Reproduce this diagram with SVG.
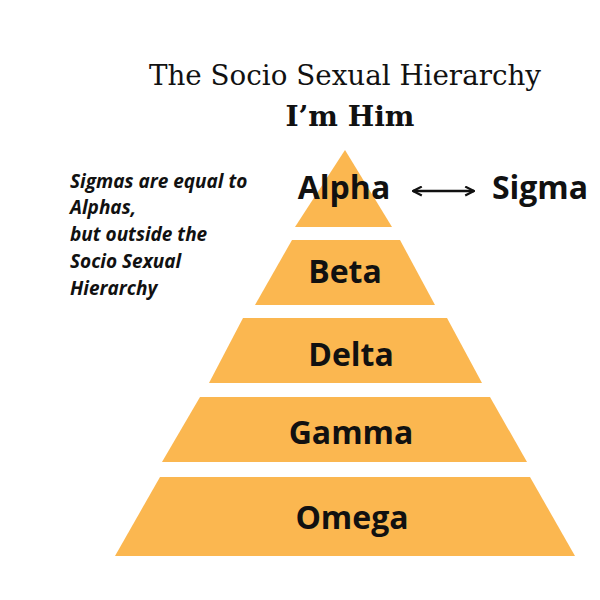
<svg xmlns="http://www.w3.org/2000/svg" width="600" height="600" viewBox="0 0 600 600">
<style>
.tier{fill:#FBB750;}
.lbl{font-family:"Open Sans","Liberation Sans",sans-serif;font-weight:700;font-size:32px;fill:#111;text-anchor:middle;}
.note{font-family:"Open Sans","Liberation Sans",sans-serif;font-weight:700;font-style:italic;font-size:19px;fill:#111;}
.title{font-family:"DejaVu Serif","Liberation Serif",serif;fill:#111;text-anchor:middle;}
</style>
<defs>
<marker id="chev" viewBox="0 0 10 10" refX="9" refY="5" markerWidth="4.4" markerHeight="4.4" orient="auto-start-reverse">
<path d="M1,1 L9,5 L1,9" fill="none" stroke="#111" stroke-width="2"/>
</marker>
</defs>
<rect width="600" height="600" fill="#fff"/>
<text class="title" x="345" y="85" font-size="27" textLength="392" lengthAdjust="spacingAndGlyphs">The Socio Sexual Hierarchy</text>
<text class="title" x="350" y="126" font-size="28" font-weight="700">I’m Him</text>
<g id="note">
<text class="note" x="70" y="188">Sigmas are equal to</text>
<text class="note" x="70" y="214">Alphas,</text>
<text class="note" x="70" y="241">but outside the</text>
<text class="note" x="70" y="268">Socio Sexual</text>
<text class="note" x="70" y="295">Hierarchy</text>
</g>
<g id="alpha"><polygon class="tier" points="345,150 392,227 295,227"/><text class="lbl" x="344" y="199">Alpha</text></g>
<g id="beta"><polygon class="tier" points="292,240 400,240 435,305 255,305"/><text class="lbl" x="345" y="283">Beta</text></g>
<g id="delta"><polygon class="tier" points="243,318 447,318 482,383 209,383"/><text class="lbl" x="351" y="366">Delta</text></g>
<g id="gamma"><polygon class="tier" points="200,397 490,397 527,462 162,462"/><text class="lbl" x="351" y="444">Gamma</text></g>
<g id="omega"><polygon class="tier" points="160,477 530,477 575,556 115,556"/><text class="lbl" x="352" y="529">Omega</text></g>
<g id="sigma"><text class="lbl" x="540" y="199">Sigma</text></g>
<g id="connectors">
<line x1="413" y1="191" x2="474" y2="191" stroke="#111" stroke-width="2.5" marker-start="url(#chev)" marker-end="url(#chev)"/>
</g>
</svg>
